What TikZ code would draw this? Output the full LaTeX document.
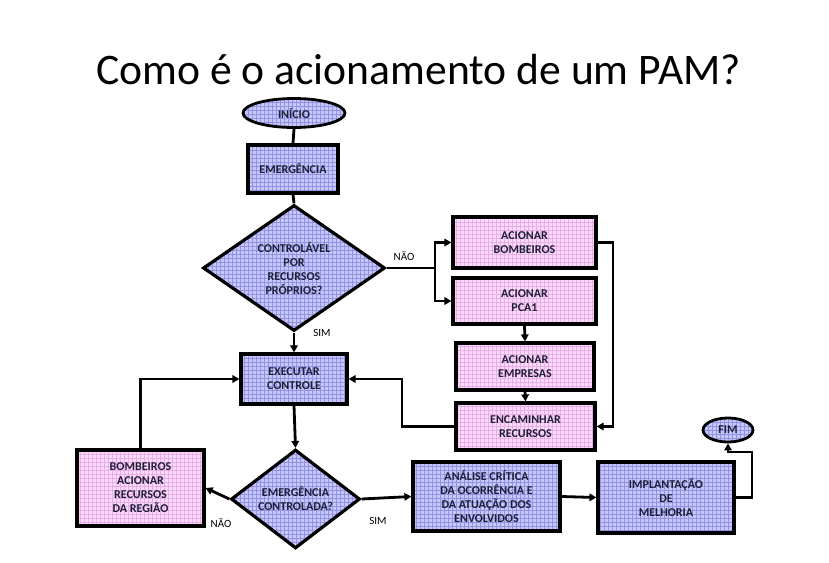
\documentclass[tikz,border=0pt]{standalone}
\usepackage{fontspec}
\setmainfont{Carlito}
\usetikzlibrary{shapes.geometric,arrows.meta,patterns}
\definecolor{bluefill}{RGB}{200,200,248}
\definecolor{bluegrid}{RGB}{145,145,232}
\definecolor{pinkfill}{RGB}{252,218,250}
\definecolor{pinkgrid}{RGB}{232,172,232}
\definecolor{txt}{RGB}{30,30,55}
\pgfdeclarepatternformonly{mygrid}{\pgfqpoint{-1pt}{-1pt}}{\pgfqpoint{5pt}{5pt}}{\pgfqpoint{4pt}{4pt}}{%
  \pgfsetlinewidth{0.45pt}%
  \pgfpathmoveto{\pgfqpoint{0pt}{0pt}}\pgfpathlineto{\pgfqpoint{0pt}{4.1pt}}%
  \pgfpathmoveto{\pgfqpoint{0pt}{0pt}}\pgfpathlineto{\pgfqpoint{4.1pt}{0pt}}%
  \pgfusepath{stroke}}
\tikzset{
  base/.style={draw=black, line width=3.2pt, inner sep=0pt, align=center,
    font=\fontsize{12}{14}\selectfont\bfseries, text=txt},
  bluebox/.style={base, rectangle, preaction={fill=bluefill},
    pattern=mygrid, pattern color=bluegrid},
  pinkbox/.style={base, rectangle, preaction={fill=pinkfill},
    pattern=mygrid, pattern color=pinkgrid},
  bluedia/.style={base, diamond, preaction={fill=bluefill},
    pattern=mygrid, pattern color=bluegrid},
  blueell/.style={base, ellipse, line width=2.8pt, preaction={fill=bluefill},
    pattern=mygrid, pattern color=bluegrid},
  conn/.style={line width=2.8pt, draw=black},
  arr/.style={conn, -{Triangle[length=7pt,width=7.5pt]}},
  lbl/.style={font=\fontsize{11}{13}\selectfont, text=black, inner sep=0pt}
}
\begin{document}
\begin{tikzpicture}[x=1pt,y=-1pt]
\useasboundingbox[fill=white] (0,0) rectangle (829,562);
\node[anchor=base, font=\fontsize{43.6}{50}\selectfont, inner sep=0pt] (title) at (418.5,84) {Como é o acionamento de um PAM?};

\node[blueell, minimum width=102pt, minimum height=29pt] (inicio) at (294,113) {INÍCIO};
\node[bluebox, minimum width=90pt, minimum height=48pt] (emerg) at (293,169) {EMERGÊNCIA};
\node[bluedia, minimum width=182pt, minimum height=126pt] (ctrl) at (294,268) {CONTROLÁVEL\\POR\\RECURSOS\\PRÓPRIOS?};
\node[pinkbox, minimum width=143pt, minimum height=51pt] (bomb) at (524.5,242.5) {ACIONAR\\BOMBEIROS};
\node[pinkbox, minimum width=143pt, minimum height=46pt] (pca) at (524.5,301) {ACIONAR\\PCA1};
\node[pinkbox, minimum width=138pt, minimum height=47pt] (empr) at (525,366.5) {ACIONAR\\EMPRESAS};
\node[pinkbox, minimum width=139pt, minimum height=47pt] (encam) at (525.5,426.5) {ENCAMINHAR\\RECURSOS};
\node[bluebox, minimum width=106pt, minimum height=50pt] (exec) at (294,379) {EXECUTAR\\CONTROLE};
\node[bluedia, minimum width=129pt, minimum height=96pt] (emc) at (295.5,499) {EMERGÊNCIA\\CONTROLADA?};
\node[pinkbox, minimum width=127pt, minimum height=76pt] (breg) at (140.5,488) {BOMBEIROS\\ACIONAR\\RECURSOS\\DA REGIÃO};
\node[bluebox, minimum width=147pt, minimum height=69pt] (anal) at (486.5,496.5) {ANÁLISE CRÍTICA\\DA OCORRÊNCIA E\\DA ATUAÇÃO DOS\\ENVOLVIDOS};
\node[bluebox, minimum width=136pt, minimum height=71pt] (impl) at (666,497.5) {IMPLANTAÇÃO\\DE\\MELHORIA};
\node[blueell, minimum width=50pt, minimum height=24pt] (fim) at (728,430) {FIM};

\coordinate (j1) at (435,268);
\coordinate (r1) at (613,242.5);
\coordinate (l1) at (402,426.5);
\coordinate (f1) at (752,497.5);
\coordinate (f2) at (752,452);
\coordinate (f3) at (728,452);

\draw[conn] (inicio.south) -- (emerg.north);
\draw[conn] (emerg.south) -- (ctrl.north);
\draw[conn] (ctrl.east) -- (j1);
\draw[arr] (j1) |- (bomb.west);
\draw[arr] (j1) |- (pca.west);
\draw[arr, line width=2pt] (ctrl.south) -- (exec.north);
\draw[arr] (pca.south) -- (empr.north);
\draw[arr] (empr.south) -- (encam.north);
\draw[arr] (bomb.east) -- (r1) |- (encam.east);
\draw[arr] (encam.west) -- (l1) |- (exec.east);
\draw[arr] (exec.south) -- (emc.north);
\draw[arr] (emc.west) -- (breg.east);
\draw[arr] (breg.north) |- (exec.west);
\draw[arr] (emc.east) -- (anal.west);
\draw[arr] (anal.east) -- (impl.west);
\draw[arr] (impl.east) -- (f1) -- (f2) -- (f3) -- (fim.south);

\node[lbl] (nao1) at (404,256) {NÃO};
\node[lbl] (sim1) at (322,333) {SIM};
\node[lbl] (nao2) at (221,523) {NÃO};
\node[lbl] (sim2) at (378,521) {SIM};
\end{tikzpicture}
\end{document}
